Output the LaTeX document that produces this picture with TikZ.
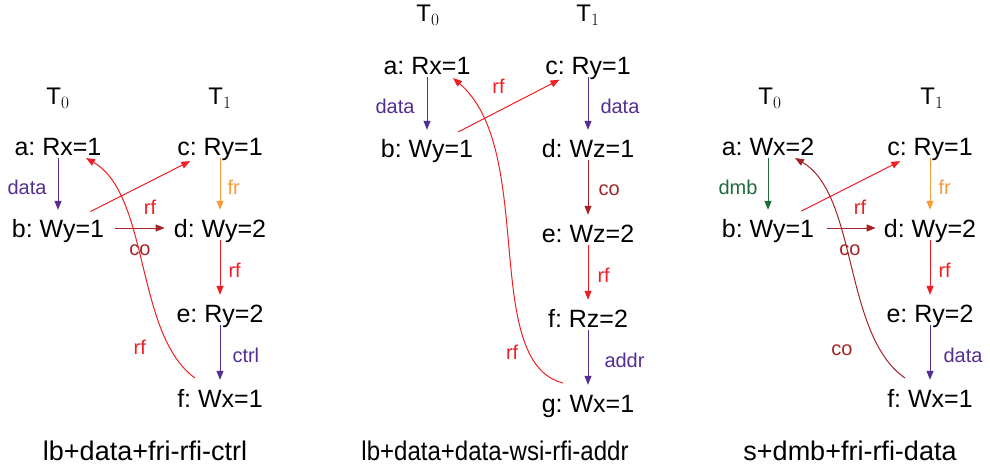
\documentclass[tikz,border=0pt]{standalone}
\usepackage{fontspec}
\setmainfont{Liberation Sans}
\usepackage{tikz}
\usetikzlibrary{arrows.meta}
\usetikzlibrary{positioning}
\definecolor{dep}{RGB}{84,46,145}
\definecolor{frc}{RGB}{250,155,55}
\definecolor{rfc}{RGB}{238,30,36}
\definecolor{coc}{RGB}{165,35,38}
\definecolor{dmbc}{RGB}{30,108,58}
\frenchspacing

\begin{document}
\begin{tikzpicture} [x=1pt,y=-1pt]
	 \tikzstyle{event}=[font=\fontsize{25}{25}\selectfont,inner xsep=2pt,inner ysep=0pt,text height=18pt,text depth=0pt]
	 \tikzstyle{thread}=[font=\fontsize{24}{24}\selectfont]
	 \tikzstyle{lbl}=[font=\fontsize{20}{20}\selectfont,inner sep=2pt]
	 \tikzstyle{caption}=[font=\fontsize{27}{27}\selectfont,anchor=base]
	 \tikzstyle{edge} = [draw,line width=1pt,-{Triangle[length=9pt,width=7pt]}]
	 \tikzstyle{po} = [edge,shorten <=3pt,shorten >=9pt]
	 \useasboundingbox (0,0) rectangle (990,469);

	 % lb+data+fri-rfi-ctrl
	 \node[thread] (t0a) at (58,98) {T$_0$};
	 \node[thread] (t1a) at (220,98) {T$_1$};
	 \node[event] (a1) at (58,146) {a: Rx=1};
	 \node[event] (c1) at (220,146) {c: Ry=1};
	 \node[event] (b1) at (58,228) {b: Wy=1};
	 \node[event] (d1) at (220,228) {d: Wy=2};
	 \node[event] (e1) at (220,313) {e: Ry=2};
	 \node[event] (f1) at (220,398) {f: Wx=1};

	 \draw[po,dep] (a1) -- node[lbl,left=9pt] (ab1) {data} (b1);
	 \draw[po,frc] (c1) -- node[lbl,right=5pt] (cd1) {fr} (d1);
	 \draw[po,rfc] (d1) -- node[lbl,right=6pt] (de1) {rf} (e1);
	 \draw[po,dep] (e1) -- node[lbl,right=10pt] (ef1) {ctrl} (f1);
	 \draw[edge,rfc,shorten <=16pt,shorten >=13pt] (b1) -- node[lbl,xshift=11pt,yshift=-20pt] (bc1) {rf} (c1);
	 \draw[edge,coc,shorten <=9pt,shorten >=7pt] (b1) -- node[lbl,xshift=1pt,yshift=-22pt] (bd1) {co} (d1);
	 \draw[edge,rfc] ([shift={(-25,-20)}]f1.center) .. controls (135,335) and (150,195) .. node[lbl,pos=.2,xshift=-27pt,yshift=-5pt] (fa1) {rf} ([shift={(28,12)}]a1.center);

	 % lb+data+data-wsi-rfi-addr
	 \node[thread] (t0b) at (428,15) {T$_0$};
	 \node[thread] (t1b) at (588,15) {T$_1$};
	 \node[event] (a2) at (427,65) {a: Rx=1};
	 \node[event] (c2) at (588,65) {c: Ry=1};
	 \node[event] (b2) at (427,148) {b: Wy=1};
	 \node[event] (d2) at (588,148) {d: Wz=1};
	 \node[event] (e2) at (588,233) {e: Wz=2};
	 \node[event] (f2) at (588,318) {f: Rz=2};
	 \node[event] (g2) at (588,403) {g: Wx=1};

	 \draw[po,dep] (a2) -- node[lbl,left=10pt] (ab2) {data} (b2);
	 \draw[po,dep] (c2) -- node[lbl,right=10pt] (cd2) {data} (d2);
	 \draw[po,coc] (d2) -- node[lbl,right=8pt] (de2) {co} (e2);
	 \draw[po,rfc] (e2) -- node[lbl,right=7pt] (ef2) {rf} (f2);
	 \draw[po,dep] (f2) -- node[lbl,right=14pt] (fg2) {addr} (g2);
	 \draw[edge,rfc,shorten <=15pt,shorten >=12pt] (b2) -- node[lbl,xshift=-9pt,yshift=20pt] (bc2) {rf} (c2);
	 \draw[edge,rfc] ([shift={(-25,-20)}]g2.center) .. controls (480,362) and (537,150) .. node[lbl,pos=.15,xshift=-22pt,yshift=10pt] (ga2) {rf} ([shift={(26,13)}]a2.center);

	 % s+dmb+fri-rfi-data
	 \node[thread] (t0c) at (770,98) {T$_0$};
	 \node[thread] (t1c) at (932,98) {T$_1$};
	 \node[event] (a3) at (768,146) {a: Wx=2};
	 \node[event] (c3) at (930,146) {c: Ry=1};
	 \node[event] (b3) at (768,228) {b: Wy=1};
	 \node[event] (d3) at (930,228) {d: Wy=2};
	 \node[event] (e3) at (930,313) {e: Ry=2};
	 \node[event] (f3) at (930,398) {f: Wx=1};

	 \draw[po,dmbc] (a3) -- node[lbl,left=8pt] (ab3) {dmb} (b3);
	 \draw[po,frc] (c3) -- node[lbl,right=6pt] (cd3) {fr} (d3);
	 \draw[po,rfc] (d3) -- node[lbl,right=6pt] (de3) {rf} (e3);
	 \draw[po,dep] (e3) -- node[lbl,right=11pt] (ef3) {data} (f3);
	 \draw[edge,rfc,shorten <=17pt,shorten >=13pt] (b3) -- node[lbl,xshift=11pt,yshift=-20pt] (bc3) {rf} (c3);
	 \draw[edge,coc,shorten <=11pt,shorten >=6pt] (b3) -- node[lbl,xshift=1pt,yshift=-22pt] (bd3) {co} (d3);
	 \draw[edge,coc] ([shift={(-25,-20)}]f3.center) .. controls (843,335) and (858,195) .. node[lbl,pos=.2,xshift=-34pt,yshift=-8pt] (fa3) {co} ([shift={(27,12)}]a3.center);

	 \node[caption] (cap1) at (145,460) {lb+data+fri-rfi-ctrl};
	 \node[caption,xscale=.89] (cap2) at (495,460) {lb+data+data-wsi-rfi-addr};
	 \node[caption] (cap3) at (850,460) {s+dmb+fri-rfi-data};
 \end{tikzpicture}
\end{document}
